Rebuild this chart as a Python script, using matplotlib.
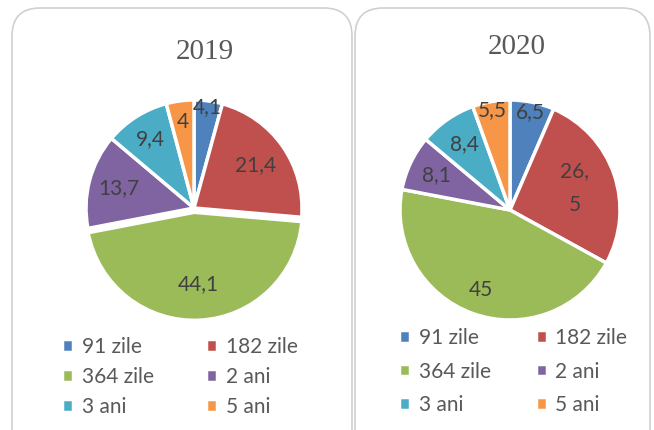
import matplotlib
matplotlib.use("Agg")
import matplotlib.pyplot as plt
import numpy as np
from matplotlib.patches import FancyBboxPatch

# date: structura pe scadente (%)
categories = ["91 zile", "182 zile", "364 zile", "2 ani", "3 ani", "5 ani"]
values_2019 = [4.1, 21.4, 44.1, 13.7, 9.4, 4]
values_2020 = [6.5, 26.5, 45, 8.1, 8.4, 5.5]
labels_2019 = ["4,1", "21,4", "44,1", "13,7", "9,4", "4"]
labels_2020 = ["6,5", "26,\n5", "45", "8,1", "8,4", "5,5"]
years = ["2019", "2020"]

colors = ["#4F81BD", "#C0504D", "#9BBB59", "#8064A2", "#4BACC6", "#F79646"]

plt.rcParams['font.family'] = ['Lato', 'DejaVu Sans']

W, H = 654, 430
fig = plt.figure(figsize=(W / 100, H / 100), dpi=100)


def px(x, y):
    # pixeli (de sus) -> coordonate figura
    return x / W, 1 - y / H


# chenare rotunjite (in spatele graficelor)
bg = fig.add_axes([0, 0, 1, 1], zorder=-1)
bg.set_xlim(0, W)
bg.set_ylim(H, 0)
bg.axis("off")
for x0, x1 in [(12, 352), (355, 650)]:
    box = FancyBboxPatch((x0, 8), x1 - x0, H + 40,
                         boxstyle="round,pad=0,rounding_size=28",
                         facecolor="white", edgecolor="#d0d0d0", linewidth=1.2)
    bg.add_patch(box)

# legenda pe randuri (matplotlib umple pe coloane)
order = [0, 2, 4, 1, 3, 5]


def draw_pie(rect, values, labels, dists, explode, title, title_xy, leg_xy, leg_space, col_space):
    ax = fig.add_axes(rect)
    wedges, texts = ax.pie(values, labels=labels, colors=colors, startangle=90,
                           counterclock=False, explode=explode, labeldistance=0.7,
                           wedgeprops=dict(edgecolor="white", linewidth=2.5),
                           textprops=dict(color="#404040", fontsize=15, ha="center", va="center"))
    for w, t, d in zip(wedges, texts, dists):
        ang = np.deg2rad((w.theta1 + w.theta2) / 2)
        cx, cy = w.center
        t.set_position((cx + d * np.cos(ang), cy + d * np.sin(ang)))
        t.set_ha("center")
        t.set_linespacing(1.9)
    ax.set_xlim(-1, 1)
    ax.set_ylim(-1, 1)
    ax.set_aspect("equal")
    fig.text(*px(*title_xy), title, family="Liberation Serif", fontsize=21,
             color="#595959", ha="center", va="center")
    ax.legend([wedges[i] for i in order], [categories[i] for i in order],
              ncol=2, loc="upper left",
              bbox_to_anchor=px(*leg_xy), bbox_transform=fig.transFigure,
              frameon=False, fontsize=15, labelcolor="#595959",
              handlelength=0.55, handleheight=0.55, handletextpad=0.4,
              labelspacing=leg_space, columnspacing=col_space,
              borderpad=0, borderaxespad=0)
    return ax


draw_pie([px(86, 0)[0], px(0, 316)[1], 216 / W, 216 / H], values_2019, labels_2019,
         [0.94, 0.7, 0.67, 0.72, 0.76, 0.8], [0, 0, 0.04, 0, 0, 0],
         years[0], (205, 52), (62, 337), 0.48, 2.5)
draw_pie([px(400, 0)[0], px(0, 320)[1], 220 / W, 220 / H], values_2020, labels_2020,
         [0.91, 0.62, 0.77, 0.74, 0.73, 0.92], [0] * 6,
         years[1], (517, 47), (399, 328), 0.65, 2.15)

fig.savefig("out.png", dpi=100)
